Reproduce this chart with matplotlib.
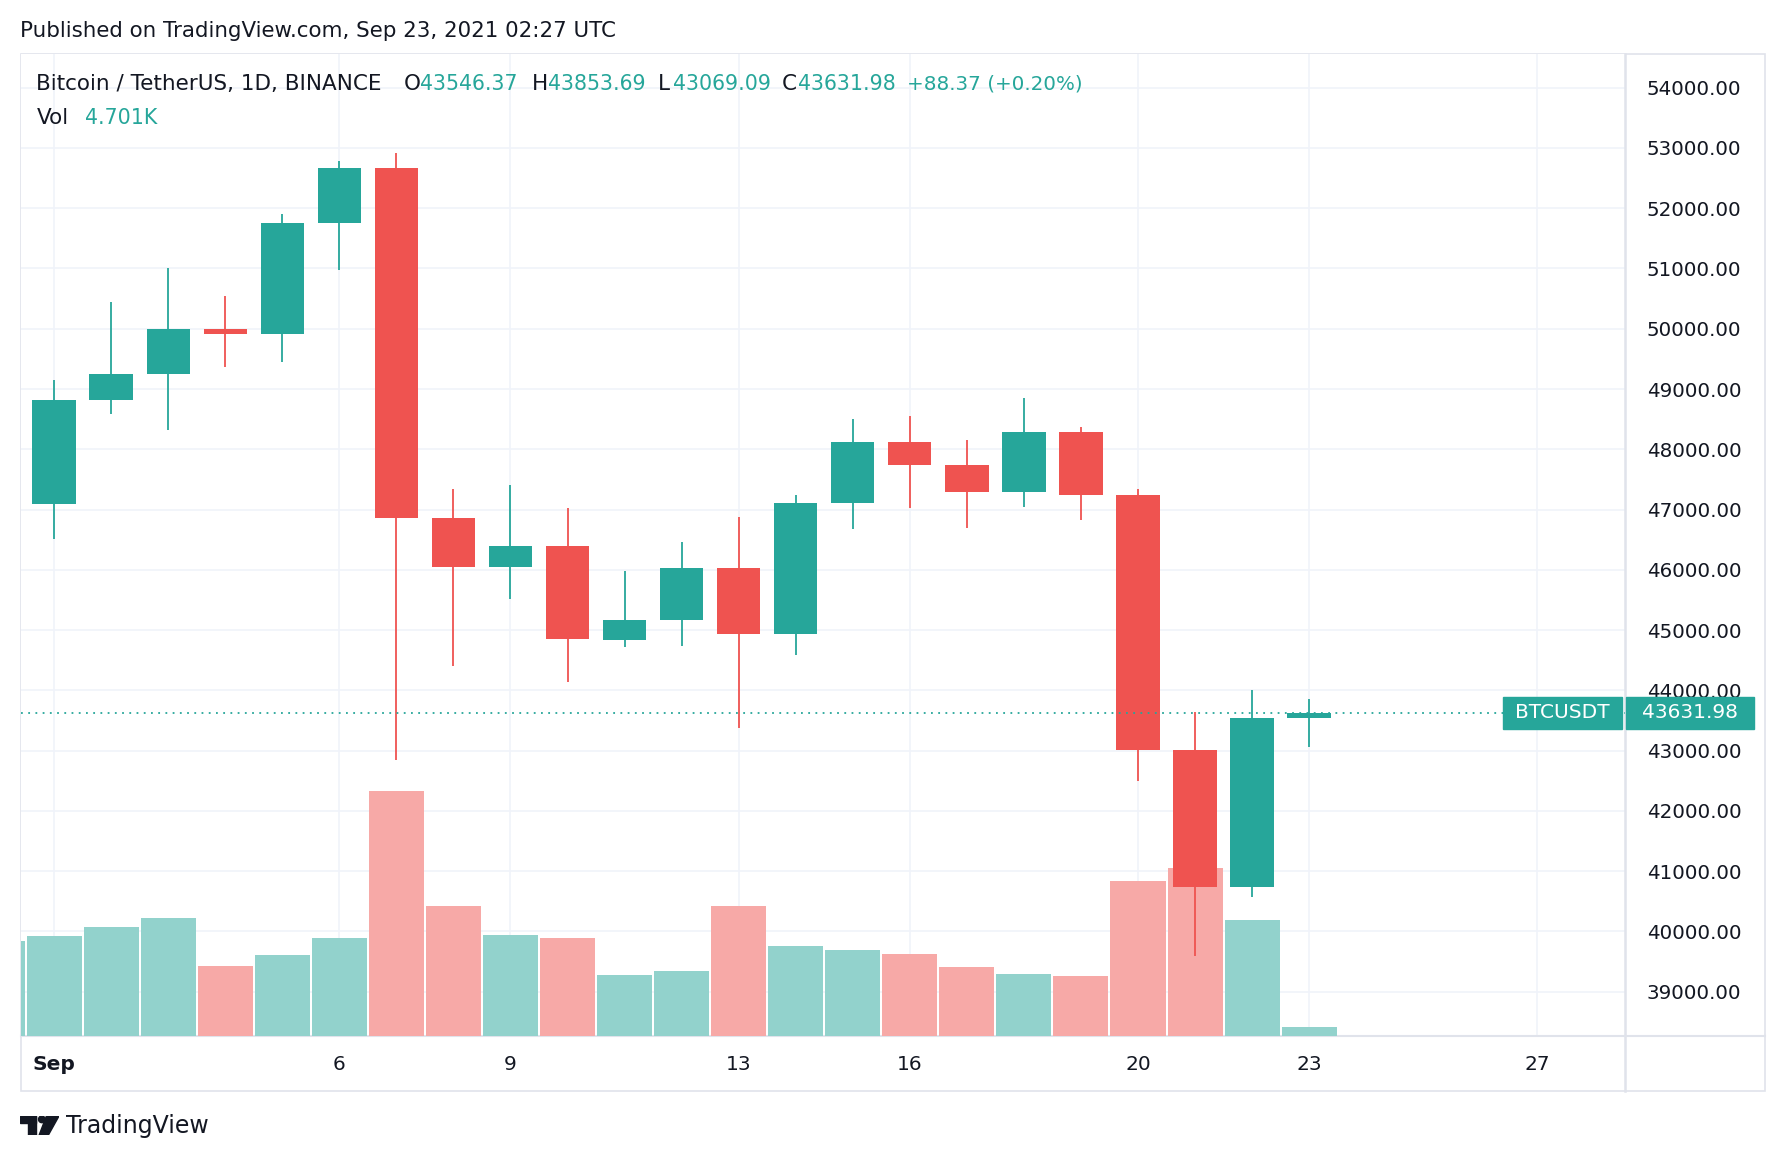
import numpy as np
import matplotlib.pyplot as plt
from matplotlib.patches import Rectangle, Circle, Polygon
from matplotlib.lines import Line2D
from matplotlib.transforms import blended_transform_factory

# day of month, 0 = Aug 31
days = np.arange(0, 24)
opens = np.array([47024.49, 47100.89, 48810.51, 49246.63, 49998.00, 49917.54, 51756.88, 52666.20,
                  46868.57, 46048.31, 46395.14, 44842.20, 45173.68, 46025.23, 44940.72, 47103.28,
                  48121.40, 47737.81, 47299.98, 48292.75, 47241.75, 43016.64, 40734.09, 43546.37])
highs = np.array([48189.84, 49156.00, 50450.13, 51000.00, 50535.69, 51900.00, 52780.00, 52920.00,
                  47340.99, 47399.97, 47033.00, 45987.93, 46460.00, 46880.00, 47250.00, 48500.00,
                  48557.00, 48150.00, 48843.20, 48372.83, 47347.25, 43639.00, 44000.55, 43853.69])
lows = np.array([46750.00, 46512.00, 48584.06, 48316.84, 49370.00, 49450.00, 50969.33, 42843.05,
                 44412.02, 45513.08, 44132.29, 44722.22, 44742.06, 43370.00, 44594.44, 46682.32,
                 47021.10, 46699.56, 47035.56, 46829.18, 42500.00, 39600.00, 40565.39, 43069.09])
closes = np.array([47101.00, 48810.52, 49246.64, 49999.14, 49915.64, 51756.88, 52663.90, 46863.73,
                   46048.31, 46395.14, 44850.91, 45173.69, 46025.24, 44940.73, 47111.52, 48121.41,
                   47737.82, 47299.98, 48292.74, 47241.75, 43015.62, 40734.38, 43543.61, 43631.98])
volumes_k = np.array([48.0, 50.4, 54.9, 59.5, 35.3, 40.8, 49.4, 123.0, 65.5, 50.9, 49.4, 30.7,
                      32.8, 65.5, 45.4, 43.3, 41.3, 34.8, 31.3, 30.2, 78.1, 84.7, 58.5, 4.701])

tick_days = [1, 6, 9, 13, 16, 20, 23, 27]
tick_labels = ['Sep', '6', '9', '13', '16', '20', '23', '27']
price_ticks = np.arange(39000, 54001, 1000)

UP, DOWN = '#26a69a', '#ef5350'
UP_VOL, DOWN_VOL = '#92d2cc', '#f7a9a7'
TXT = '#131722'
GRID = '#f0f3fa'
BORDER = '#e0e3eb'

W, H = 1784, 1162
fig = plt.figure(figsize=(W / 100, H / 100), dpi=100)
fig.patch.set_facecolor('white')


def fx(px):
    return px / W


def fy(py):
    return 1 - py / H


left, right, top, bottom = 20.5, 1624.6, 53.5, 1036
rect = [fx(left), fy(bottom), fx(right) - fx(left), fy(top) - fy(bottom)]

ax = fig.add_axes(rect, zorder=1)
axv = fig.add_axes(rect, sharex=ax, zorder=2)
axc = fig.add_axes(rect, sharex=ax, sharey=ax, zorder=3)

# price scale + grid
ax.set_xlim(0.411, 28.53)
ax.set_ylim(38266, 54567)
ax.set_yticks(price_ticks)
ax.set_yticklabels([f'{v:.2f}' for v in price_ticks])
ax.yaxis.tick_right()
ax.tick_params(axis='y', length=0, pad=16, labelsize=14.3, labelcolor=TXT)
ax.set_xticks(tick_days)
ax.set_xticklabels(tick_labels)
ax.tick_params(axis='x', length=0, pad=14, labelsize=14.5, labelcolor=TXT)
ax.get_xticklabels()[0].set_fontweight('bold')
ax.grid(color=GRID, linewidth=1.2)
for s in ax.spines.values():
    s.set_visible(False)

# volume
up = closes >= opens
axv.bar(days, volumes_k, width=0.965, color=np.where(up, UP_VOL, DOWN_VOL))
axv.set_ylim(0, 493.9)
axv.axis('off')

# candles
cols = np.where(up, UP, DOWN)
axc.vlines(days, lows, highs, colors=cols, linewidth=1.3)
axc.bar(days, np.abs(closes - opens), bottom=np.minimum(opens, closes), width=0.76, color=cols)
axc.axis('off')

last = closes[-1]
axc.axhline(last, color=UP, linestyle=(0, (1, 3)), linewidth=1.3)
trans = blended_transform_factory(fig.transFigure, ax.transData)
box_h = 530
axc.add_patch(Rectangle((fx(1503), last - box_h / 2), fx(1622) - fx(1503), box_h,
                        transform=trans, color=UP, clip_on=False))
axc.add_patch(Rectangle((fx(1626), last - box_h / 2), fx(1754) - fx(1626), box_h,
                        transform=trans, color=UP, clip_on=False))
axc.text(fx(1562), last, 'BTCUSDT', transform=trans, ha='center', va='center',
         color='white', fontsize=14.5, clip_on=False)
axc.text(fx(1690), last, f'{last:.2f}', transform=trans, ha='center', va='center',
         color='white', fontsize=14.5, clip_on=False)

# frame
fig.add_artist(Rectangle((fx(20.5), fy(1090.7)), fx(1764.7) - fx(20.5), fy(53.5) - fy(1090.7),
                         transform=fig.transFigure, fill=False, edgecolor=BORDER, lw=1.2))
fig.add_artist(Line2D([fx(1624.6)] * 2, [fy(1090.7), fy(53.5)], transform=fig.transFigure,
                      color=BORDER, lw=1.8))
fig.add_artist(Line2D([fx(20.5), fx(1764.7)], [fy(1036)] * 2, transform=fig.transFigure,
                      color=BORDER, lw=1.5))

# header texts
fig.text(fx(20.5), fy(30.7), 'Published on TradingView.com, Sep 23, 2021 02:27 UTC',
         fontsize=15.4, va='center', color=TXT)

chg = closes[-1] - closes[-2]
pct = chg / closes[-2] * 100
legend = [
    (36.4, 'Bitcoin / TetherUS, 1D, BINANCE', TXT, 15.5),
    (404, 'O', TXT, 15.5), (420, f'{opens[-1]:.2f}', UP, 14.8),
    (531.7, 'H', TXT, 15.5), (547.6, f'{highs[-1]:.2f}', UP, 14.8),
    (658, 'L', TXT, 15.5), (672.9, f'{lows[-1]:.2f}', UP, 14.8),
    (782, 'C', TXT, 15.5), (798, f'{closes[-1]:.2f}', UP, 14.8),
    (907.4, f'{chg:+.2f} ({pct:+.2f}%)', UP, 14.3),
]
for x, s, c, fs in legend:
    fig.text(fx(x), fy(84.2), s, fontsize=fs, va='center', color=c)
fig.text(fx(36.4), fy(118.4), 'Vol', fontsize=15.5, va='center', color=TXT)
fig.text(fx(85.4), fy(118.4), f'{volumes_k[-1]:.3f}K', fontsize=14.8, va='center', color=UP)

# TradingView logo
lax = fig.add_axes([fx(20), fy(1135), fx(59) - fx(20), fy(1116) - fy(1135)])
lax.set_xlim(0, 118)
lax.set_ylim(0, 57)
lax.axis('off')
lax.add_patch(Rectangle((0, 37), 48, 20, color=TXT))
lax.add_patch(Rectangle((24, 0), 24, 57, color=TXT))
lax.add_patch(Circle((66, 47), 10, color=TXT))
lax.add_patch(Polygon([(80, 57), (118, 57), (86, 0), (58, 0)], color=TXT))
fig.text(fx(66), fy(1126), 'TradingView', fontsize=17, va='center', color=TXT)

fig.savefig('out.png', dpi=100)
